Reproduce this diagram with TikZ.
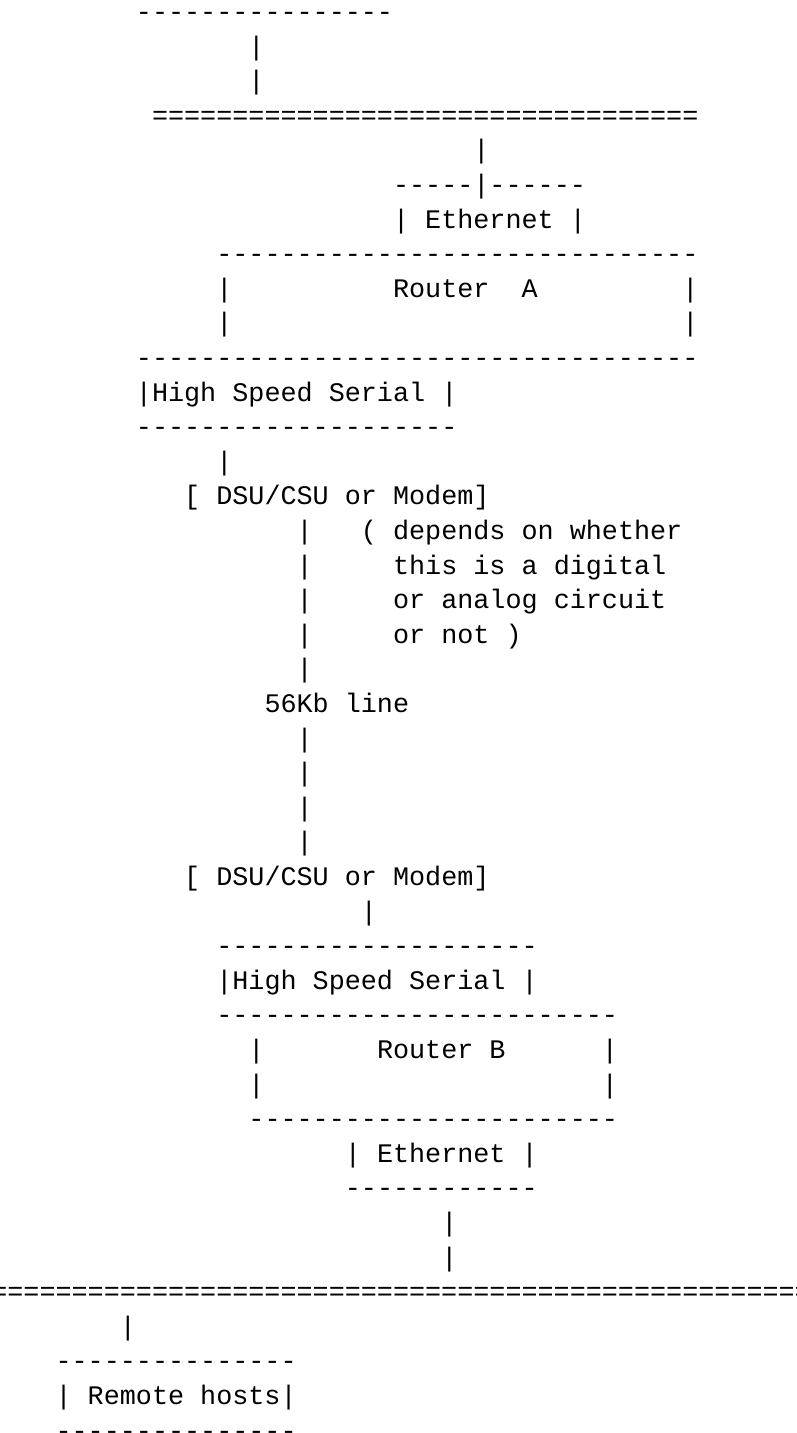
\documentclass[tikz,border=0pt]{standalone}
\usepackage{fontspec}
\setmonofont{Liberation Mono}
\ExplSyntaxOn
\cs_new:Npn \asciirep #1#2 { \prg_replicate:nn {#1} {#2} }
\ExplSyntaxOff
\tikzset{
  ascii/.style={anchor=base west, inner sep=0pt, outer sep=0pt,
    font=\ttfamily\fontsize{26.78pt}{34.6pt}\selectfont, text=black},
}
% #1 name, #2 line number, #3 column, #4 text
\newcommand\asciiat[4]{\node[ascii] (#1) at ({7.4pt+(#3)*16.07pt},{-(20.4pt+(#2-1)*34.6pt)}) {#4};}
\begin{document}
\begin{tikzpicture}
\useasboundingbox (0,0) rectangle (797pt,-1433pt);
\fill[white] (0,0) rectangle (797pt,-1433pt);
\clip (0,0) rectangle (797pt,-1433pt);
\asciiat{l1}{1}{8}{\asciirep{16}{-}}
\asciiat{l2}{2}{15}{|}
\asciiat{l3}{3}{15}{|}
\asciiat{l4}{4}{9}{\asciirep{34}{=}}
\asciiat{l5}{5}{29}{|}
\asciiat{l6}{6}{24}{\asciirep{5}{-}|\asciirep{6}{-}}
\asciiat{l7}{7}{24}{| Ethernet |}
\asciiat{l8}{8}{13}{\asciirep{30}{-}}
\asciiat{l9a}{9}{13}{|}
\asciiat{l9b}{9}{24}{Router}
\asciiat{l9c}{9}{32}{A}
\asciiat{l9d}{9}{42}{|}
\asciiat{l10a}{10}{13}{|}
\asciiat{l10b}{10}{42}{|}
\asciiat{l11}{11}{8}{\asciirep{35}{-}}
\asciiat{l12}{12}{8}{|High Speed Serial |}
\asciiat{l13}{13}{8}{\asciirep{20}{-}}
\asciiat{l14}{14}{13}{|}
\asciiat{l15}{15}{11}{[ DSU/CSU or Modem]}
\asciiat{l16a}{16}{18}{|}
\asciiat{l16b}{16}{22}{( depends on whether}
\asciiat{l17a}{17}{18}{|}
\asciiat{l17b}{17}{24}{this is a digital}
\asciiat{l18a}{18}{18}{|}
\asciiat{l18b}{18}{24}{or analog circuit}
\asciiat{l19a}{19}{18}{|}
\asciiat{l19b}{19}{24}{or not )}
\asciiat{l20}{20}{18}{|}
\asciiat{l21}{21}{16}{56Kb line}
\asciiat{l22}{22}{18}{|}
\asciiat{l23}{23}{18}{|}
\asciiat{l24}{24}{18}{|}
\asciiat{l25}{25}{18}{|}
\asciiat{l26}{26}{11}{[ DSU/CSU or Modem]}
\asciiat{l27}{27}{22}{|}
\asciiat{l28}{28}{13}{\asciirep{20}{-}}
\asciiat{l29}{29}{13}{|High Speed Serial |}
\asciiat{l30}{30}{13}{\asciirep{25}{-}}
\asciiat{l31a}{31}{15}{|}
\asciiat{l31b}{31}{23}{Router B}
\asciiat{l31c}{31}{37}{|}
\asciiat{l32a}{32}{15}{|}
\asciiat{l32b}{32}{37}{|}
\asciiat{l33}{33}{15}{\asciirep{23}{-}}
\asciiat{l34}{34}{21}{| Ethernet |}
\asciiat{l35}{35}{21}{\asciirep{12}{-}}
\asciiat{l36}{36}{27}{|}
\asciiat{l37}{37}{27}{|}
\asciiat{l38}{38}{-1}{\asciirep{52}{=}}
\asciiat{l39}{39}{7}{|}
\asciiat{l40}{40}{3}{\asciirep{15}{-}}
\asciiat{l41}{41}{3}{| Remote hosts|}
\asciiat{l42}{42}{3}{\asciirep{15}{-}}
\end{tikzpicture}
\end{document}
